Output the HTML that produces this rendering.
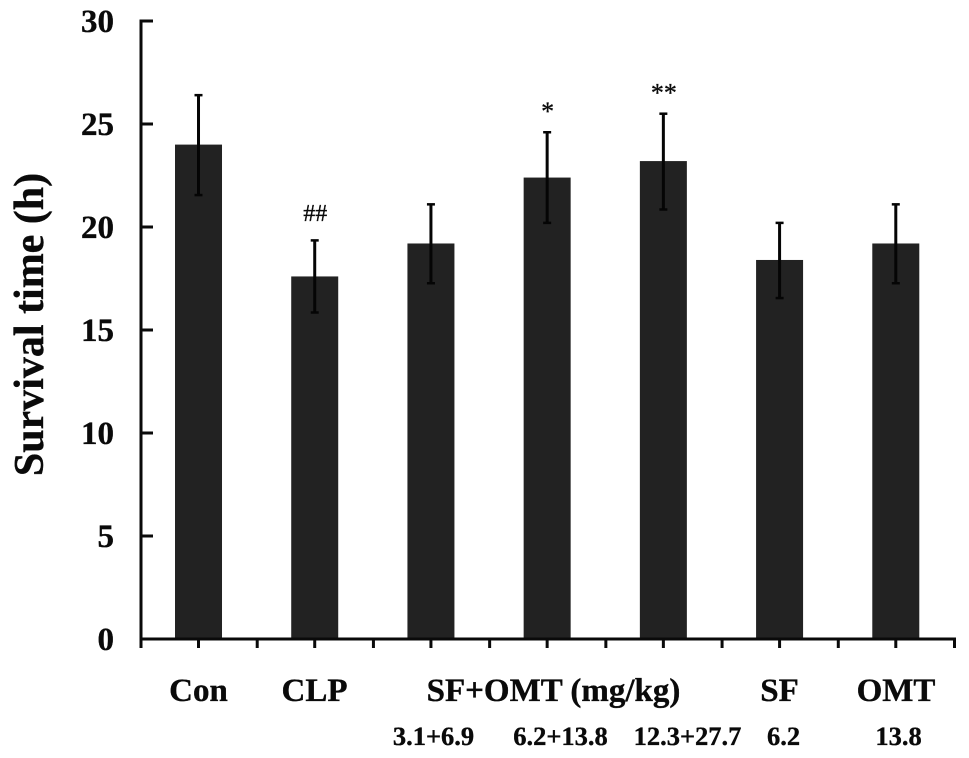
<!DOCTYPE html>
<html>
<head>
<meta charset="utf-8">
<style>
html,body{margin:0;padding:0;background:#fff;width:969px;height:758px;overflow:hidden}
svg{display:block}
text{font-family:"Liberation Serif",serif;font-weight:bold;fill:#0a0a0a;stroke:#0a0a0a;stroke-width:0.35px}
</style>
</head>
<body>
<svg id="chart" width="969" height="758" viewBox="0 0 969 758" xmlns="http://www.w3.org/2000/svg"></svg>
<script>
const categories = ["Con","CLP","SF+OMT 3.1+6.9","SF+OMT 6.2+13.8","SF+OMT 12.3+27.7","SF 6.2","OMT 13.8"];
const values = [24, 17.6, 19.2, 22.4, 23.2, 18.4, 19.2];
const errUpper = [26.4, 19.35, 21.1, 24.6, 25.5, 20.2, 21.1];
const errLower = [21.55, 15.85, 17.27, 20.2, 20.85, 16.55, 17.27];
const annotations = ["", "##", "", "*", "**", "", ""];
const yTicks = [0, 5, 10, 15, 20, 25, 30];

const NS = "http://www.w3.org/2000/svg";
const svg = document.getElementById("chart");
const X0 = 141, X1 = 954.5, Y0 = 639, Y1 = 21, YMAX = 30;
const step = (X1 - X0) / categories.length;
const yScale = function (v) { return Y0 - (v / YMAX) * (Y0 - Y1); };
const xCenter = function (i) { return X0 + step * (i + 0.5); };
const MARK_SHIFT = -0.6;

function make(tag, attrs, txt) {
  const el = document.createElementNS(NS, tag);
  for (const k in attrs) el.setAttribute(k, attrs[k]);
  if (txt !== undefined) el.textContent = txt;
  svg.appendChild(el);
  return el;
}

// bars and error bars
categories.forEach(function (c, i) {
  const cx = xCenter(i) + MARK_SHIFT;
  const bar = make("rect", {x: cx - 23.5, y: yScale(values[i]), width: 47, height: Y0 - yScale(values[i]), fill: "#222222"});
  
  
  const stem = make("line", {x1: cx, x2: cx, y1: yScale(errUpper[i]), y2: yScale(errLower[i]), stroke: "#050505", "stroke-width": 3});
  
  
  [errUpper[i], errLower[i]].forEach(function (v) {
    const cap = make("line", {x1: cx - 4, x2: cx + 4, y1: yScale(v), y2: yScale(v), stroke: "#050505", "stroke-width": 2.5});
    
    
  });
  if (annotations[i]) {
    const isHash = annotations[i] === "##";
    const note = make("text", {x: cx + 0.5, y: yScale(errUpper[i]) - (isHash ? 19.5 : 12), "text-anchor": "middle", "font-size": isHash ? 24 : 26, style: "font-weight:normal;stroke-width:0.3px"}, annotations[i]);
    
    
  }
});

// y axis
const yAxis = make("line", {x1: X0, x2: X0, y1: Y1 - 1.5, y2: Y0 + 1.5, stroke: "#0a0a0a", "stroke-width": 3});


yTicks.forEach(function (t) {
  const y = yScale(t);
  if (t > 0) {
    const tick = make("line", {x1: X0, x2: X0 + 12, y1: y, y2: y, stroke: "#0a0a0a", "stroke-width": 3});
    
    
  }
  const label = make("text", {x: 114, y: y + 11, "text-anchor": "end", "font-size": 33}, String(t));
  
  
});

// x axis
const xAxis = make("line", {x1: X0 - 1.5, x2: X1 + 1.5, y1: Y0, y2: Y0, stroke: "#0a0a0a", "stroke-width": 3});


for (let i = 0; i <= categories.length; i++) {
  const tx = X0 + step * i;
  const major = make("line", {x1: tx, x2: tx, y1: Y0, y2: Y0 + 9, stroke: "#0a0a0a", "stroke-width": 3});
  
  
}
for (let i = 0; i < categories.length; i++) {
  const tx = xCenter(i) + MARK_SHIFT;
  const mid = make("line", {x1: tx, x2: tx, y1: Y0, y2: Y0 + 9, stroke: "#0a0a0a", "stroke-width": 3});
  
  
}

const yTitle = make("text", {x: 0, y: 0, "text-anchor": "middle", "font-size": 42, transform: "translate(43 324.5) rotate(-90)"}, "Survival time (h)");



const groupLabels = [["Con", 198.5], ["CLP", 314.5], ["SF+OMT (mg/kg)", 553.5], ["SF", 779.5], ["OMT", 896]];
groupLabels.forEach(function (g) {
  const t = make("text", {x: g[1], y: 701, "text-anchor": "middle", "font-size": 33}, g[0]);
  
  
});
const doseLabels = [["3.1+6.9", 433.5], ["6.2+13.8", 560.5], ["12.3+27.7", 687.5], ["6.2", 783.5], ["13.8", 898.5]];
doseLabels.forEach(function (g) {
  const t = make("text", {x: g[1], y: 745, "text-anchor": "middle", "font-size": 26.5}, g[0]);
  
  
});
</script>
</body>
</html>
